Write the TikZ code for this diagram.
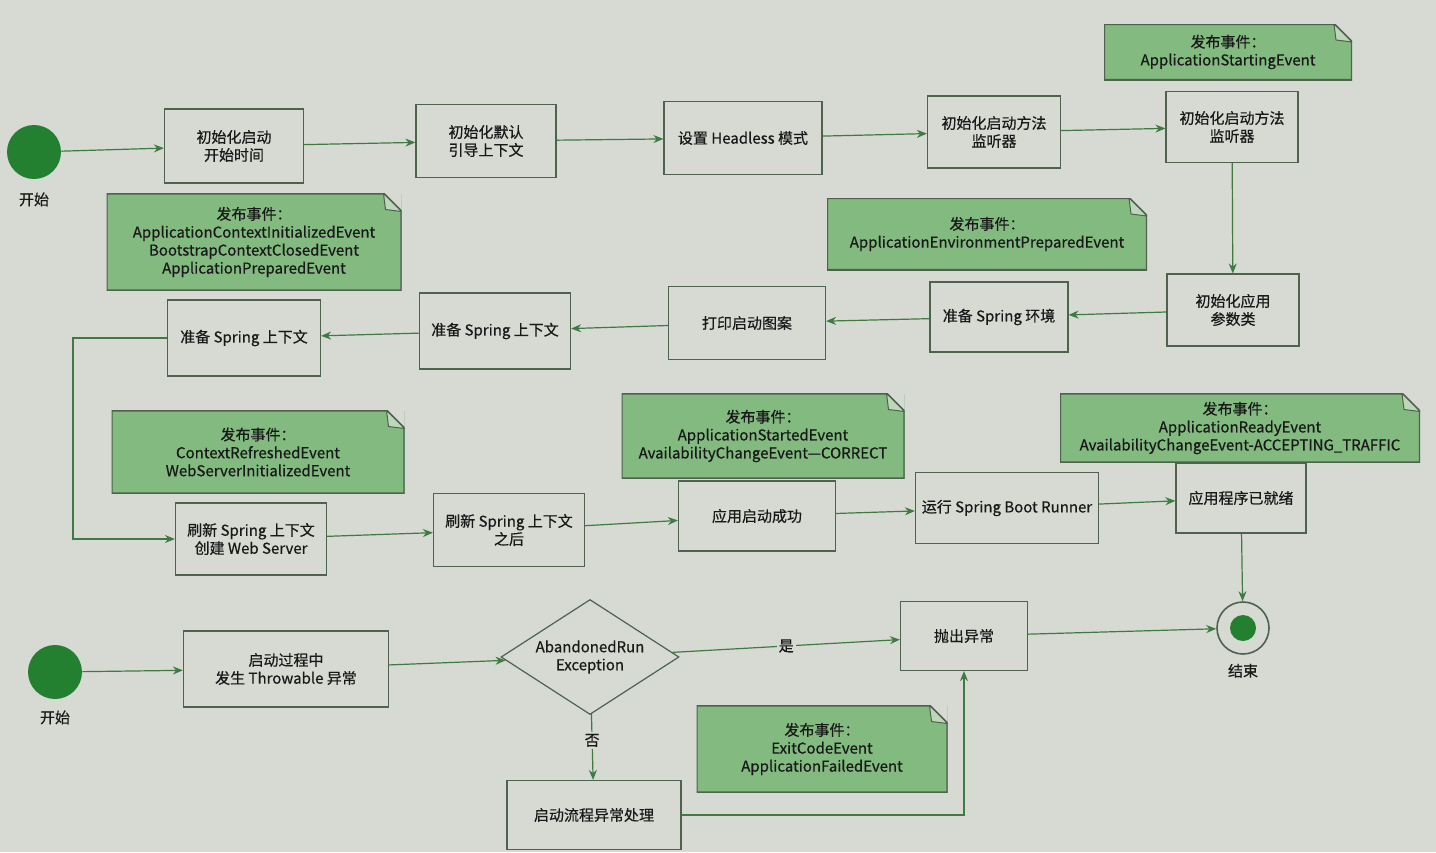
\documentclass[tikz,border=0pt]{standalone}
\usepackage{fontspec}
\setmainfont{Noto Sans CJK SC}[FakeBold=0.5]
\usetikzlibrary{shapes.geometric,arrows.meta,positioning}

\definecolor{paper}{RGB}{214,218,211}
\definecolor{boxline}{RGB}{78,98,78}
\definecolor{flowline}{RGB}{62,122,66}
\definecolor{notefill}{RGB}{130,186,128}
\definecolor{notefold}{RGB}{190,214,186}
\definecolor{dotgreen}{RGB}{34,128,48}

\tikzset{
  stepbox/.style={draw=boxline, line width=0.6pt, align=center, inner sep=2pt},
  flow/.style={draw=flowline, line width=0.6pt, -{Stealth[length=5pt,width=4pt]}},
  startdot/.style={circle, fill=dotgreen, minimum size=27pt, inner sep=0pt},
  enddot/.style={circle, draw=boxline, line width=0.8pt, minimum size=26pt, inner sep=0pt,
    path picture={\fill[dotgreen] (path picture bounding box.center) circle (6.5pt);}},
  eventnote/.style={fill=notefill, align=center, inner sep=2pt,
    path picture={
      \path (path picture bounding box.north east) coordinate (ne)
            (path picture bounding box.south west) coordinate (sw);
      \fill[paper] ([xshift=-9pt]ne) -- (ne) -- ([yshift=-9pt]ne) -- cycle;
      \draw[boxline, line width=1.2pt] (sw |- ne) -- ([xshift=-9pt]ne) -- ([yshift=-9pt]ne)
        -- (ne |- sw) -- (sw) -- cycle;
      \draw[boxline, line width=0.5pt, fill=notefold] ([xshift=-9pt]ne) -- ([xshift=-8pt,yshift=-8pt]ne)
        -- ([yshift=-9pt]ne) -- cycle;
    }},
}

\begin{document}
\begin{tikzpicture}[x=0.5pt, y=-0.5pt,
    every node/.style={font=\fontsize{7.5}{9}\selectfont, text=black!90}]
  \useasboundingbox (0,0) rectangle (1436,852);
  \fill[paper] (0,0) rectangle (1436,852);

  % main start-up flow
  \node[startdot] (start) at (34,152) {};
  \node[below=3pt of start] (startlbl) {开始};
  \node[stepbox, minimum width=69.5pt, minimum height=37pt] (n1) at (234,146) {初始化启动\\开始时间};
  \node[stepbox, minimum width=70pt, minimum height=36.5pt] (n2) at (486,141) {初始化默认\\引导上下文};
  \node[stepbox, minimum width=79pt, minimum height=36.5pt] (n3) at (743,138) {设置 Headless 模式};
  \node[stepbox, minimum width=66.5pt, minimum height=36pt] (n4) at (994,132) {初始化启动方法\\监听器};
  \node[stepbox, minimum width=66pt, minimum height=35.5pt] (n5) at (1232,127) {初始化启动方法\\监听器};

  \node[eventnote, minimum width=124pt, minimum height=28pt] (ev1) at (1228,52) {发布事件：\\ApplicationStartingEvent};
  \node[eventnote, minimum width=147.5pt, minimum height=48.5pt] (ev2) at (254,242)
    {发布事件：\\ApplicationContextInitializedEvent\\BootstrapContextClosedEvent\\ApplicationPreparedEvent};
  \node[eventnote, minimum width=160pt, minimum height=36pt] (ev3) at (987,234) {发布事件：\\ApplicationEnvironmentPreparedEvent};

  \node[stepbox, minimum width=66pt, minimum height=36pt] (n6) at (1233,310) {初始化应用\\参数类};
  \node[stepbox, minimum width=69pt, minimum height=35pt] (n7) at (999,317) {准备 Spring 环境};
  \node[stepbox, minimum width=78.5pt, minimum height=36.5pt] (n8) at (747,323) {打印启动图案};
  \node[stepbox, minimum width=75.5pt, minimum height=38pt] (n9) at (495,331) {准备 Spring 上下文};
  \node[stepbox, minimum width=76.5pt, minimum height=38pt] (n10) at (244,338) {准备 Spring 上下文};

  \node[eventnote, minimum width=146.5pt, minimum height=41.5pt] (ev4) at (258,452)
    {发布事件：\\ContextRefreshedEvent\\WebServerInitializedEvent};
  \node[eventnote, minimum width=141.5pt, minimum height=42.5pt] (ev5) at (763,436)
    {发布事件：\\ApplicationStartedEvent\\AvailabilityChangeEvent—CORRECT};
  \node[eventnote, minimum width=180pt, minimum height=34.5pt] (ev6) at (1240,428)
    {发布事件：\\ApplicationReadyEvent\\AvailabilityChangeEvent-ACCEPTING\_TRAFFIC};

  \node[stepbox, minimum width=75.5pt, minimum height=36pt] (n11) at (251,539) {刷新 Spring 上下文\\创建 Web Server};
  \node[stepbox, minimum width=75.5pt, minimum height=36.5pt] (n12) at (509,530) {刷新 Spring 上下文\\之后};
  \node[stepbox, minimum width=78.5pt, minimum height=35pt] (n13) at (757,516) {应用启动成功};
  \node[stepbox, minimum width=91.5pt, minimum height=35.5pt] (n14) at (1007,508) {运行 Spring Boot Runner};
  \node[stepbox, minimum width=65pt, minimum height=35pt] (n15) at (1241,498) {应用程序已就绪};

  \node[enddot] (end) at (1243,628) {};
  \node[below=1pt of end] (endlbl) {结束};

  % failure flow
  \node[startdot] (start2) at (55,672) {};
  \node[below=2pt of start2] (start2lbl) {开始};
  \node[stepbox, minimum width=102.5pt, minimum height=38pt] (n16) at (286,669) {启动过程中\\发生 Throwable 异常};
  \node[diamond, draw=boxline, line width=0.6pt, shape aspect=1.6, minimum width=89pt, minimum height=57.5pt,
    inner sep=0pt, align=center] (dia) at (590,657) {AbandonedRun\\Exception};
  \node[stepbox, minimum width=63.5pt, minimum height=34.5pt] (n17) at (964,636) {抛出异常};
  \node[stepbox, minimum width=87pt, minimum height=34.5pt] (n18) at (594,815) {启动流程异常处理};
  \node[eventnote, minimum width=125.5pt, minimum height=43.5pt] (ev7) at (822,749)
    {发布事件：\\ExitCodeEvent\\ApplicationFailedEvent};

  % connectors
  \draw[flow] (start) -- (n1);
  \draw[flow] (n1) -- (n2);
  \draw[flow] (n2) -- (n3);
  \draw[flow] (n3) -- (n4);
  \draw[flow] (n4) -- (n5);
  \draw[flow] (n5) -- (n6);
  \draw[flow] (n6) -- (n7);
  \draw[flow] (n7) -- (n8);
  \draw[flow] (n8) -- (n9);
  \draw[flow] (n9) -- (n10);
  \draw[flow] (n10.west) -- ++(-94,0) |- (n11.west);
  \draw[flow] (n11) -- (n12);
  \draw[flow] (n12) -- (n13);
  \draw[flow] (n13) -- (n14);
  \draw[flow] (n14) -- (n15);
  \draw[flow] (n15) -- (end);

  \draw[flow] (start2) -- (n16);
  \draw[flow] (n16) -- (dia);
  \draw[flow] (dia) -- node[fill=paper, inner sep=1pt] (yeslbl) {是} (n17);
  \draw[flow] (dia) -- node[pos=0.4, fill=paper, inner sep=1pt] (nolbl) {否} (n18);
  \draw[flow] (n18.east) -| (n17.south);
  \draw[flow] (n17) -- (end);
\end{tikzpicture}
\end{document}
